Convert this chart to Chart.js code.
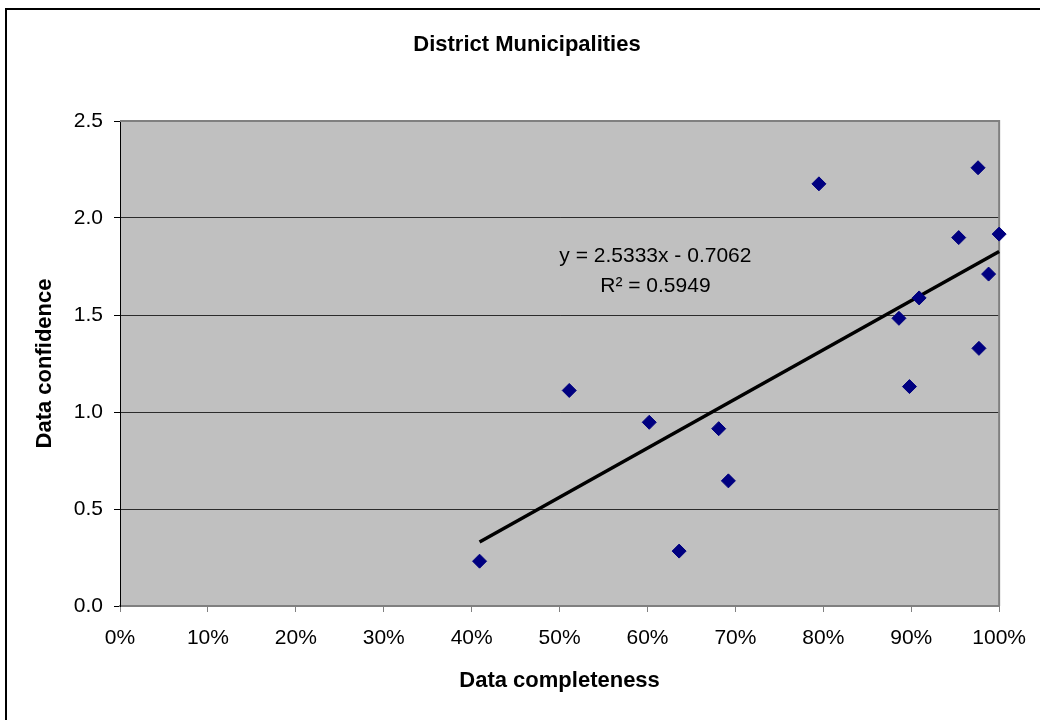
<!DOCTYPE html>
<html>
<head>
<meta charset="utf-8">
<title>District Municipalities</title>
<script src="https://cdn.jsdelivr.net/npm/chart.js@4/dist/chart.umd.min.js"></script>
<style>
  html, body { margin: 0; padding: 0; background: #ffffff; }
  #wrap { width: 1040px; height: 720px; position: relative; }
</style>
</head>
<body>
<div id="wrap"><canvas id="chart" width="1040" height="720"></canvas></div>
<script>
// Data completeness (share, 0..1) and data confidence for each district municipality
const completeness = [0.409, 0.511, 0.602, 0.636, 0.681, 0.692, 0.795, 0.886, 0.898, 0.909, 0.954, 0.976, 0.977, 0.988, 1.000];
const confidence   = [0.231, 1.111, 0.947, 0.283, 0.914, 0.645, 2.176, 1.483, 1.131, 1.588, 1.899, 2.259, 1.328, 1.711, 1.917];

// Linear trend line coefficients (y = slope * x + intercept) and fit quality
const trendSlope = 2.5333;
const trendIntercept = -0.7062;
const trendR2 = 0.5949;

// Axis tick labels
const xTickLabels = ['0%', '10%', '20%', '30%', '40%', '50%', '60%', '70%', '80%', '90%', '100%'];
const yTickLabels = ['0.0', '0.5', '1.0', '1.5', '2.0', '2.5'];

const chartTitle = 'District Municipalities';

const points = completeness.map((x, i) => ({ x: x, y: confidence[i] }));
const xMin = Math.min(...completeness);
const xMax = Math.max(...completeness);
const trendPoints = [xMin, xMax].map(x => ({ x: x, y: trendSlope * x + trendIntercept }));

const FONT = "'Liberation Sans', Arial, Helvetica, sans-serif";
Chart.defaults.font.family = FONT;
Chart.defaults.color = '#000000';

// Page background, outer frame, chart title and grey plot area
const plotBackground = {
  id: 'plotBackground',
  beforeDraw(chart) {
    const { ctx, chartArea: a } = chart;
    ctx.save();
    ctx.fillStyle = '#ffffff';
    ctx.fillRect(0, 0, chart.width, chart.height);
    ctx.strokeStyle = '#000000';
    ctx.lineWidth = 2;
    ctx.beginPath();
    ctx.moveTo(6, chart.height);
    ctx.lineTo(6, 9);
    ctx.lineTo(chart.width, 9);
    ctx.stroke();
    ctx.fillStyle = '#c0c0c0';
    ctx.fillRect(a.left, a.top, a.right - a.left, a.bottom - a.top);
    ctx.fillStyle = '#000000';
    ctx.font = 'bold 22px ' + FONT;
    ctx.textAlign = 'center';
    ctx.textBaseline = 'middle';
    ctx.fillText(chartTitle, 527, 45);
    ctx.restore();
  },
  beforeDatasetsDraw(chart) {
    const { ctx, chartArea: a } = chart;
    ctx.save();
    ctx.strokeStyle = '#808080';
    ctx.lineWidth = 2;
    ctx.beginPath();
    ctx.moveTo(a.left, a.top);
    ctx.lineTo(a.right, a.top);
    ctx.lineTo(a.right, a.bottom);
    ctx.stroke();
    ctx.restore();
  }
};

// Trend equation and R² label
const trendLabel = {
  id: 'trendLabel',
  afterDatasetsDraw(chart) {
    const { ctx, scales } = chart;
    const cx = scales.x.getPixelForValue(0.609);
    const cy = scales.y.getPixelForValue(1.771);
    const sign = trendIntercept < 0 ? ' - ' : ' + ';
    const line1 = 'y = ' + trendSlope.toFixed(4) + 'x' + sign + Math.abs(trendIntercept).toFixed(4);
    const line2 = 'R\u00B2 = ' + trendR2.toFixed(4);
    ctx.save();
    ctx.fillStyle = '#000000';
    ctx.font = '21px ' + FONT;
    ctx.textAlign = 'center';
    ctx.textBaseline = 'alphabetic';
    ctx.fillText(line1, cx, cy);
    ctx.fillText(line2, cx, cy + 30);
    ctx.restore();
  }
};

new Chart(document.getElementById('chart'), {
  type: 'scatter',
  data: {
    datasets: [
      {
        label: 'District municipalities',
        data: points,
        pointStyle: 'rectRot',
        pointRadius: 7,
        pointHoverRadius: 7,
        backgroundColor: '#000080',
        borderColor: '#000080',
        borderWidth: 1,
        clip: false,
        order: 1
      },
      {
        type: 'line',
        label: 'Linear trend',
        data: trendPoints,
        borderColor: '#000000',
        borderWidth: 3.5,
        pointRadius: 0,
        fill: false,
        clip: false,
        order: 2
      }
    ]
  },
  options: {
    responsive: false,
    animation: false,
    events: [],
    layout: { padding: { left: 0, right: 40, top: 121, bottom: 0 } },
    plugins: {
      legend: { display: false },
      tooltip: { enabled: false },
      title: { display: false }
    },
    scales: {
      x: {
        type: 'linear',
        min: 0,
        max: 1,
        afterFit(scale) { scale.height = 114; },
        ticks: {
          stepSize: 0.1,
          padding: 14,
          font: { size: 21 },
          color: '#000000',
          callback: (v) => xTickLabels[Math.round(v * 10)]
        },
        grid: {
          drawOnChartArea: false,
          drawTicks: true,
          tickLength: 6,
          tickColor: '#808080',
          tickWidth: 1
        },
        border: { display: true, color: '#808080', width: 2 },
        title: {
          display: true,
          text: 'Data completeness',
          color: '#000000',
          font: { size: 22, weight: 'bold', family: FONT },
          padding: { top: 0, bottom: 26 }
        }
      },
      y: {
        type: 'linear',
        min: 0,
        max: 2.5,
        afterFit(scale) { scale.width = 120; },
        ticks: {
          stepSize: 0.5,
          padding: 11,
          font: { size: 21 },
          color: '#000000',
          callback: (v) => yTickLabels[Math.round(v * 2)]
        },
        grid: {
          drawOnChartArea: true,
          drawTicks: true,
          tickLength: 6,
          tickColor: '#000000',
          lineWidth: 1,
          color: (ctx) => (ctx.tick && (ctx.tick.value === 0 || ctx.tick.value === 2.5)) ? 'rgba(0,0,0,0)' : '#2b2b2b'
        },
        border: { display: true, color: '#000000', width: 1 },
        title: {
          display: true,
          text: 'Data confidence',
          color: '#000000',
          font: { size: 22, weight: 'bold', family: FONT },
          padding: { top: 32, bottom: 0 }
        }
      }
    }
  },
  plugins: [plotBackground, trendLabel]
});
</script>
</body>
</html>
